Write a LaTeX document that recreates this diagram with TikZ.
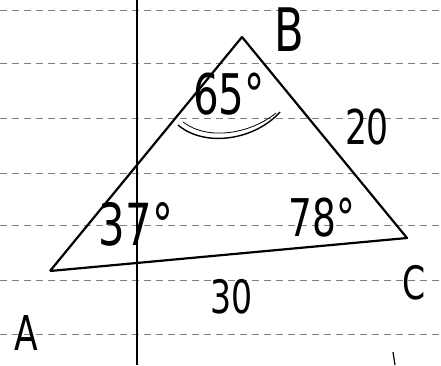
\documentclass[tikz,border=0pt]{standalone}
\usepackage{fontspec}
\setmainfont{DejaVu Sans}
\begin{document}
\begin{tikzpicture}[x=1pt,y=-1pt,
  rule/.style={black!50, line width=0.6pt, dash pattern=on 7pt off 5pt},
  side/.style={black, line width=2.2pt, line join=round},
  hand/.style={font=\fontsize{#1}{#1}\selectfont, inner sep=0pt},
]
\newcommand{\narrow}[1]{\scalebox{0.72}[1]{#1}}
\useasboundingbox (0,0) rectangle (441,365);
\fill[white] (0,0) rectangle (441,365);
% ruled lines
\foreach \yy in {10,63,118,173,225,280,334}
  \draw[rule] (0,\yy) -- (441,\yy);
% margin line
\draw[black, line width=1.3pt] (137,0) -- (137,365);
% triangle
\coordinate (A) at (50,271);
\coordinate (B) at (242,37);
\coordinate (C) at (407,238);
\draw[side] (A) -- (B) -- (C) -- (A);
% angle arc at B
\coordinate (arcS) at (178,125);
\coordinate (arcE) at (280,112);
\draw[black, line width=1.4pt] (arcS) .. controls (205,148) and (255,140) .. (arcE);
\draw[black, line width=0.8pt] (183,122) .. controls (208,141) and (250,134) .. (276,113);
% labels
\node[hand=60] (lB) at (289,30) {\narrow{B}};
\node[hand=56] (l65) at (229,94) {\narrow{65°}};
\node[hand=48] (l20) at (367,127) {\narrow{20}};
\node[hand=58] (l37) at (136,224) {\narrow{37°}};
\node[hand=52] (l78) at (322,218) {\narrow{78°}};
\node[hand=46] (l30) at (232,297) {\narrow{30}};
\node[hand=46] (lC) at (414,283) {\narrow{C}};
\node[hand=48] (lA) at (26,333) {\narrow{A}};
% small stray mark bottom right
\coordinate (m1) at (393,352);
\coordinate (m2) at (395,365);
\draw[black, line width=1.2pt] (m1) -- (m2);
\end{tikzpicture}
\end{document}
